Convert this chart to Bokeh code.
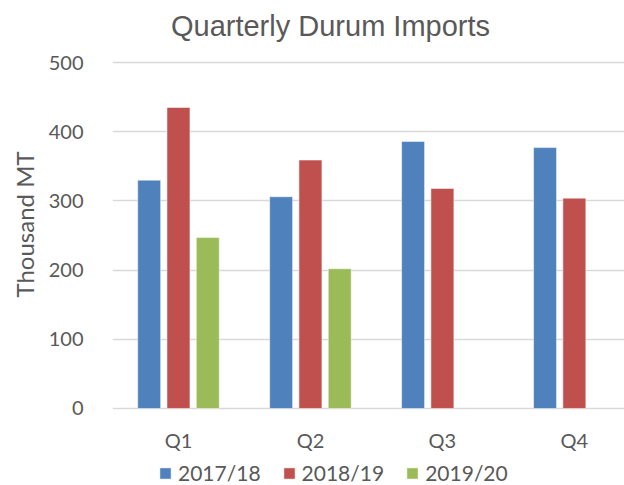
from bokeh.plotting import figure
from bokeh.models import ColumnDataSource, Range1d, FixedTicker, Legend, LegendItem, Title, Grid, Label
from bokeh.core.properties import value
from bokeh.transform import dodge
from bokeh.embed import file_html
from bokeh.resources import INLINE

# ---- data ----
quarters = ["Q1", "Q2", "Q3", "Q4"]
series_names = ["2017/18", "2018/19", "2019/20"]
imports_2017_18 = [330, 306, 386, 377]
imports_2018_19 = [435, 359, 318, 304]
imports_2019_20 = [247, 202, float("nan"), float("nan")]
y_ticks = [0, 100, 200, 300, 400, 500]
chart_title = "Quarterly Durum Imports"
y_title = "Thousand MT"

colors = ["#4F81BD", "#C0504D", "#9BBB59"]
TEXT = "#595959"
GRID = "#D9D9D9"

xpos = list(range(len(quarters)))
source = ColumnDataSource(dict(
    x=xpos,
    s0=imports_2017_18,
    s1=imports_2018_19,
    s2=imports_2019_20,
))
label_source = ColumnDataSource(dict(x=xpos, y=[0] * len(quarters), text=quarters))

# the plot frame fills the page height so that the title, the category labels
# and the legend can all sit inside it
p = figure(
    width=624, height=485, title=None,
    output_backend="svg", toolbar_location=None,
    x_range=Range1d(-0.5, 3.38), y_range=Range1d(-111.3, 589.6),
    x_axis_location=None,
    min_border_left=111, min_border_right=0, min_border_top=0, min_border_bottom=0,
)
p.outline_line_color = None
p.background_fill_color = "white"
p.border_fill_color = "white"

# chart title
p.add_layout(Label(x=218, y=460, x_units="screen", y_units="screen", text=chart_title,
                   text_align="center", text_baseline="middle",
                   text_font="Liberation Sans", text_font_size="29px", text_color=TEXT))

bar_w = 0.174
offsets = [-0.222, 0.0, 0.222]
cols = ["s0", "s1", "s2"]
renderers = []
for col, off, c in zip(cols, offsets, colors):
    r = p.vbar(x=dodge("x", off), top=col, width=bar_w, bottom=0, source=source,
               fill_color=c, line_color="white", line_alpha=0.5, line_width=1)
    renderers.append(r)

# category labels under the zero line
p.text(x="x", y="y", text="text", source=label_source, y_offset=32,
       text_align="center", text_baseline="middle",
       text_font=value("Lato"), text_font_size="20px", text_color=TEXT)

# y axis
p.yaxis.ticker = FixedTicker(ticks=y_ticks)
p.yaxis.axis_line_color = None
p.yaxis.major_tick_line_color = None
p.yaxis.minor_tick_line_color = None
p.yaxis.major_label_standoff = 23
p.yaxis.major_label_text_font = "Lato"
p.yaxis.major_label_text_font_size = "20px"
p.yaxis.major_label_text_color = TEXT

# grid: horizontal lines only
for g in p.select(type=Grid):
    if g.dimension == 0:
        g.visible = False
p.ygrid.ticker = FixedTicker(ticks=y_ticks)
p.ygrid.grid_line_color = GRID
p.ygrid.grid_line_width = 1.5

# y axis title
ytitle = Title(text=y_title, align="left", offset=188, standoff=14,
               text_font="Lato", text_font_size="24px", text_font_style="normal",
               text_color=TEXT)
p.add_layout(ytitle, "left")

# legend
legend = Legend(
    items=[LegendItem(label=n, renderers=[r]) for n, r in zip(series_names, renderers)],
    orientation="horizontal", location=(46, 0),
    glyph_width=14, glyph_height=14, label_standoff=6, spacing=21,
    padding=0, margin=0, border_line_color=None, background_fill_alpha=0,
    label_text_font="Lato", label_text_font_size="21px", label_text_color=TEXT,
)
p.add_layout(legend, "center")

open("out.html", "w").write(file_html(p, INLINE))
